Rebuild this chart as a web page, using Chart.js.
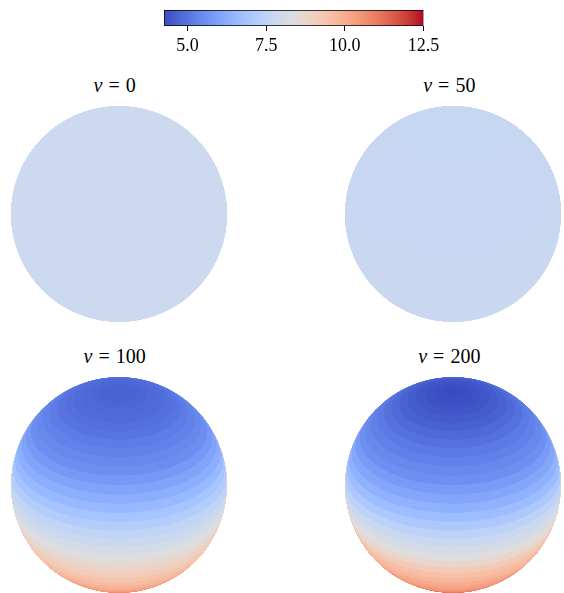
<!DOCTYPE html>
<html>
<head>
<meta charset="utf-8">
<script src="https://cdn.jsdelivr.net/npm/chart.js@4/dist/chart.umd.min.js"></script>
<style>
  html, body { margin: 0; padding: 0; background: #fff; }
  #fig { position: relative; width: 564px; height: 593px; overflow: hidden; }
  #fig canvas { position: absolute; }
  .title {
    position: absolute; width: 160px; text-align: center;
    font-family: "Liberation Serif", "Times New Roman", serif;
    font-size: 20px; line-height: 20px; color: #000; white-space: nowrap;
  }
  .title .eq { margin: 0 6px; }
</style>
</head>
<body>
<div id="fig"></div>
<script>
// ---- data -------------------------------------------------------------
// Colour scale limits and colourbar ticks
const colorLimits = [4.25, 12.5];
const colorbarTicks = [5.0, 7.5, 10.0, 12.5];

// Panel parameter v
const speeds = [0, 50, 100, 200];

// Surface value per latitude band, 36 bands of 5 degrees, north pole -> south pole
const valuesV0 = [
  7.86, 7.86, 7.86, 7.86, 7.86, 7.86, 7.86, 7.86, 7.86, 7.86, 7.86, 7.86,
  7.86, 7.86, 7.86, 7.86, 7.86, 7.86, 7.86, 7.86, 7.86, 7.86, 7.86, 7.86,
  7.86, 7.86, 7.86, 7.86, 7.86, 7.86, 7.86, 7.86, 7.86, 7.86, 7.86, 7.86
];
const valuesV50 = [
  7.70, 7.70, 7.70, 7.71, 7.71, 7.71, 7.72, 7.72, 7.72, 7.73, 7.73, 7.73,
  7.74, 7.74, 7.74, 7.75, 7.75, 7.76, 7.76, 7.77, 7.77, 7.78, 7.78, 7.79,
  7.79, 7.80, 7.80, 7.81, 7.81, 7.82, 7.82, 7.83, 7.83, 7.84, 7.84, 7.85
];
const valuesV100 = [
  4.66, 4.68, 4.72, 4.78, 4.84, 4.92, 5.03, 5.16, 5.28, 5.41, 5.53, 5.78,
  6.02, 6.27, 6.56, 6.89, 7.22, 7.55, 7.80, 8.05, 8.33, 8.62, 8.91, 9.16,
  9.40, 9.65, 9.90, 10.14, 10.35, 10.56, 10.76, 10.93, 11.09, 11.21, 11.30, 11.34
];
const valuesV200 = [
  4.25, 4.29, 4.35, 4.43, 4.54, 4.66, 4.79, 4.95, 5.12, 5.25, 5.41, 5.57,
  5.82, 6.07, 6.35, 6.68, 7.05, 7.46, 7.80, 8.09, 8.38, 8.79, 9.20, 9.53,
  9.78, 10.03, 10.27, 10.47, 10.68, 10.93, 11.17, 11.42, 11.67, 11.92, 12.17, 12.50
];
const panelValues = [valuesV0, valuesV50, valuesV100, valuesV200];

// ---- colormap (coolwarm) ----------------------------------------------
const coolwarm = [
  [59,76,192],[68,90,204],[77,104,215],[87,117,225],[98,130,234],[108,142,241],
  [119,154,247],[130,165,251],[141,176,254],[152,185,255],[163,194,255],[174,201,253],
  [184,208,249],[194,213,244],[204,217,238],[213,219,230],[221,221,221],[229,216,209],
  [236,211,197],[241,204,185],[245,196,173],[247,187,160],[247,177,148],[247,166,135],
  [244,154,123],[241,141,111],[236,127,99],[229,112,88],[222,96,77],[213,80,66],
  [203,62,56],[192,40,47],[180,4,38]
];
function cmapAt(t) {
  t = Math.min(1, Math.max(0, t));
  const f = t * (coolwarm.length - 1);
  const i = Math.min(coolwarm.length - 2, Math.floor(f));
  const w = f - i, a = coolwarm[i], b = coolwarm[i + 1];
  const c = [0, 1, 2].map(k => Math.round(a[k] + (b[k] - a[k]) * w));
  return `rgb(${c[0]},${c[1]},${c[2]})`;
}
function valueColor(v) {
  return cmapAt((v - colorLimits[0]) / (colorLimits[1] - colorLimits[0]));
}

// ---- layout -----------------------------------------------------------
const fig = document.getElementById('fig');
const RADIUS_PX = 107.7;
const PANEL_PX = 224;
const AXIS_HALF = (PANEL_PX / 2) / RADIUS_PX;   // axis half-range in sphere radii
const panelCenters = [[118.7, 214.2], [453.3, 214.2], [118.7, 485.3], [453.3, 485.3]];
const titleBaselines = [91.7, 91.7, 362.7, 362.7];

function addCanvas(left, top, w, h) {
  const c = document.createElement('canvas');
  c.width = w; c.height = h;
  c.style.left = left + 'px'; c.style.top = top + 'px';
  c.style.width = w + 'px'; c.style.height = h + 'px';
  fig.appendChild(c);
  return c;
}

// ---- sphere geometry (orthographic view from 30 deg elevation) -------
const ELEV = 30 * Math.PI / 180;
const SEG = 140;
// Outline of the visible region with colatitude <= polar (sphere of unit radius)
function capOutline(polar) {
  const h = Math.cos(polar), r = Math.sin(polar);
  const ce = Math.cos(ELEV), se = Math.sin(ELEV), te = Math.tan(ELEV);
  const pts = [];
  const ring = th => ({ x: r * Math.cos(th), y: r * Math.sin(th) * se + h * ce });
  if (r < 1e-9 ? h > 0 : h * te >= r) {
    for (let i = 0; i <= SEG; i++) pts.push(ring(2 * Math.PI * i / SEG));
  } else if (h * te <= -r) {
    for (let i = 0; i <= SEG; i++) {
      const p = 2 * Math.PI * i / SEG;
      pts.push({ x: Math.cos(p), y: Math.sin(p) });
    }
  } else {
    const th0 = Math.asin(h * te / r);
    for (let i = 0; i <= SEG; i++) pts.push(ring(Math.PI - th0 + (Math.PI + 2 * th0) * i / SEG));
    const phiR = Math.atan2(h / ce, r * Math.cos(th0));
    for (let i = 1; i < SEG; i++) {
      const p = phiR + (Math.PI - 2 * phiR) * i / SEG;
      pts.push({ x: Math.cos(p), y: Math.sin(p) });
    }
  }
  return pts;
}

// ---- sphere panels ----------------------------------------------------
panelValues.forEach((vals, idx) => {
  const [cx, cy] = panelCenters[idx];
  const canvas = addCanvas(cx - PANEL_PX / 2, cy - PANEL_PX / 2, PANEL_PX, PANEL_PX);
  const step = Math.PI / vals.length;
  // dataset 0 (top cap) is drawn last, i.e. on top
  const datasets = vals.map((v, k) => ({
    data: capOutline(step * (k + 1)),
    backgroundColor: valueColor(v),
    borderWidth: 0,
    pointRadius: 0,
    pointHoverRadius: 0,
    fill: 'shape',
    tension: 0
  }));
  new Chart(canvas, {
    type: 'line',
    data: { datasets },
    options: {
      responsive: false,
      animation: false,
      events: [],
      layout: { autoPadding: false, padding: 0 },
      plugins: { legend: { display: false }, tooltip: { enabled: false } },
      scales: {
        x: { type: 'linear', min: -AXIS_HALF, max: AXIS_HALF, display: false },
        y: { type: 'linear', min: -AXIS_HALF, max: AXIS_HALF, display: false }
      }
    }
  });

  const t = document.createElement('div');
  t.className = 'title';
  t.style.left = (cx - 4 - 80) + 'px';
  t.style.top = (titleBaselines[idx] - 16.75) + 'px';
  t.innerHTML = `<i>v</i><span class="eq">=</span>${speeds[idx]}`;
  fig.appendChild(t);
});

// ---- colourbar --------------------------------------------------------
const cbLeft = 140, cbW = 310, cbH = 60;
const cbCanvas = addCanvas(cbLeft, 0, cbW, cbH);
new Chart(cbCanvas, {
  type: 'bar',
  data: {
    labels: [''],
    datasets: [{
      data: [colorLimits],
      backgroundColor(ctx) {
        const chart = ctx.chart, xs = chart.scales.x;
        if (!chart.chartArea || !xs) return '#ccc';
        const g = chart.ctx.createLinearGradient(
          xs.getPixelForValue(colorLimits[0]), 0, xs.getPixelForValue(colorLimits[1]), 0);
        coolwarm.forEach((c, i) => g.addColorStop(i / (coolwarm.length - 1), `rgb(${c[0]},${c[1]},${c[2]})`));
        return g;
      },
      borderColor: '#000',
      borderWidth: 1,
      borderSkipped: false,
      barPercentage: 1,
      categoryPercentage: 1
    }]
  },
  options: {
    indexAxis: 'y',
    responsive: false,
    animation: false,
    events: [],
    layout: { autoPadding: false, padding: { left: 164 - cbLeft, right: cbLeft + cbW - 423.5, top: 10, bottom: 0 } },
    plugins: { legend: { display: false }, tooltip: { enabled: false } },
    scales: {
      x: {
        type: 'linear', position: 'bottom',
        min: colorLimits[0], max: colorLimits[1],
        afterBuildTicks: s => { s.ticks = colorbarTicks.map(v => ({ value: v })); },
        afterFit: s => { s.height = 34; },
        grid: { drawOnChartArea: false, drawTicks: true, tickLength: 5, color: '#000', lineWidth: 1 },
        border: { display: false },
        ticks: {
          color: '#000', padding: 4, maxRotation: 0, autoSkip: false,
          font: { family: '"Liberation Serif", "Times New Roman", serif', size: 18 },
          callback: v => Number(v).toFixed(1)
        }
      },
      y: { display: false }
    }
  }
});
</script>
</body>
</html>
